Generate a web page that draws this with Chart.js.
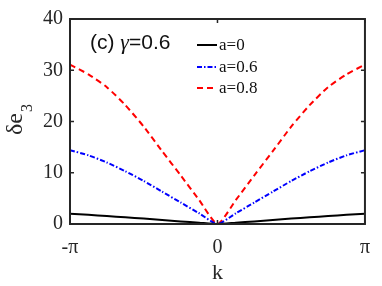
<!DOCTYPE html>
<html>
<head>
<meta charset="utf-8">
<script src="https://cdn.jsdelivr.net/npm/chart.js@4"></script>
<style>
  html, body { margin: 0; padding: 0; background: #fff; }
  #wrap { width: 382px; height: 286px; }
</style>
</head>
<body>
<div id="wrap"><canvas id="chart" width="382" height="286"></canvas></div>
<script>
// k grid, in units of pi (multiplied later)
const kSteps = [-1, -0.875, -0.75, -0.625, -0.5, -0.375, -0.25, -0.125, 0, 0.125, 0.25, 0.375, 0.5, 0.625, 0.75, 0.875, 1]

// delta e3 values
const a0 = [2.0, 1.8, 1.55, 1.3, 1.05, 0.78, 0.5, 0.25, 0, 0.25, 0.5, 0.78, 1.05, 1.3, 1.55, 1.8, 2.0]
const a06 = [14.4, 13.4, 12.0, 10.3, 8.4, 6.3, 4.2, 2.1, 0, 2.1, 4.2, 6.3, 8.4, 10.3, 12.0, 13.4, 14.4]
const a08 = [31.1, 29.2, 26.7, 23.2, 19.0, 14.2, 9.5, 4.7, 0, 4.7, 9.5, 14.2, 19.0, 23.2, 26.7, 29.2, 31.1]

const seriesLabels = ["a=0", "a=0.6", "a=0.8"]
const xTickValues = [-Math.PI, 0, Math.PI]
const xTickLabels = ["-\u03c0", "0", "\u03c0"]
const yTicks = [0, 10, 20, 30, 40]

const axisColor = "#262626"

function toPoints(vals) {
  return vals.map(function (v, i) {
    return { x: kSteps[i] * Math.PI, y: v }
  })
}

// frame box, inward ticks on all sides, legend, panel label, y title
const decorPlugin = {
  id: "decor",
  afterDraw(chart) {
    const ctx = chart.ctx
    const area = chart.chartArea
    const xs = chart.scales.x
    const ys = chart.scales.y
    ctx.save()
    ctx.strokeStyle = axisColor
    ctx.lineWidth = 2
    ctx.strokeRect(area.left, area.top, area.right - area.left, area.bottom - area.top)

    ctx.lineWidth = 1.5
    ctx.beginPath()
    yTicks.forEach(function (v) {
      const py = ys.getPixelForValue(v)
      ctx.moveTo(area.left, py)
      ctx.lineTo(area.left + 4, py)
      ctx.moveTo(area.right, py)
      ctx.lineTo(area.right - 4, py)
    })
    xTickValues.forEach(function (v) {
      const px = xs.getPixelForValue(v)
      ctx.moveTo(px, area.bottom)
      ctx.lineTo(px, area.bottom - 4)
      ctx.moveTo(px, area.top)
      ctx.lineTo(px, area.top + 4)
    })
    ctx.stroke()

    // legend
    const rows = [45, 67, 88]
    chart.data.datasets.forEach(function (ds, i) {
      ctx.beginPath()
      ctx.strokeStyle = ds.borderColor
      ctx.lineWidth = ds.borderWidth
      ctx.setLineDash(ds.borderDash || [])
      ctx.moveTo(197, rows[i])
      ctx.lineTo(217, rows[i])
      ctx.stroke()
      ctx.setLineDash([])
      ctx.fillStyle = "#111"
      ctx.font = "17px 'Liberation Serif'"
      ctx.textBaseline = "middle"
      ctx.textAlign = "left"
      ctx.fillText(ds.label, 219, rows[i] + 1)
    })

    // panel label
    ctx.fillStyle = "#111"
    ctx.textBaseline = "alphabetic"
    ctx.font = "21px 'Liberation Sans'"
    let x = 90
    ctx.fillText("(c) ", x, 49)
    x += ctx.measureText("(c) ").width
    ctx.font = "italic 22px 'Liberation Serif'"
    ctx.fillText("\u03b3", x, 49)
    x += ctx.measureText("\u03b3").width
    ctx.font = "21px 'Liberation Sans'"
    ctx.fillText("=0.6", x, 49)

    // y axis title: delta e with subscript 3
    ctx.translate(22, 135)
    ctx.rotate(-Math.PI / 2)
    ctx.font = "24px 'Liberation Serif'"
    ctx.fillStyle = axisColor
    ctx.textAlign = "left"
    const w1 = ctx.measureText("\u03b4e").width
    ctx.fillText("\u03b4e", 0, 0)
    ctx.font = "16px 'Liberation Serif'"
    ctx.fillText("3", w1 + 1, 10)
    ctx.restore()
  },
}

const ctx = document.getElementById("chart").getContext("2d")
const chart = new Chart(ctx, {
  type: "line",
  data: {
    datasets: [
      {
        label: seriesLabels[0],
        data: toPoints(a0),
        borderColor: "#000000",
        borderWidth: 2,
        pointRadius: 0,
        tension: 0.2,
      },
      {
        label: seriesLabels[1],
        data: toPoints(a06),
        borderColor: "#0000ff",
        borderWidth: 2,
        borderDash: [5, 2, 1.5, 2],
        pointRadius: 0,
        tension: 0.2,
      },
      {
        label: seriesLabels[2],
        data: toPoints(a08),
        borderColor: "#ff0000",
        borderWidth: 2,
        borderDash: [6, 4],
        pointRadius: 0,
        tension: 0.2,
      },
    ],
  },
  options: {
    responsive: false,
    animation: false,
    layout: { padding: { left: 0, right: 7, top: 13, bottom: 0 } },
    plugins: {
      legend: { display: false },
      tooltip: { enabled: false },
    },
    scales: {
      x: {
        type: "linear",
        min: -Math.PI,
        max: Math.PI,
        afterBuildTicks: function (scale) {
          scale.ticks = xTickValues.map(function (v) { return { value: v } })
        },
        afterFit: function (scale) { scale.height = 62 },
        grid: { display: false, drawTicks: false },
        border: { display: false },
        ticks: {
          padding: 12,
          color: axisColor,
          font: { family: "Liberation Serif", size: 20 },
          maxRotation: 0,
          callback: function (v) {
            const i = xTickValues.indexOf(v)
            return i >= 0 ? xTickLabels[i] : ""
          },
        },
        title: {
          display: true,
          text: "k",
          color: axisColor,
          padding: { top: 0, bottom: 0 },
          font: { family: "Liberation Serif", size: 22 },
        },
      },
      y: {
        min: 0,
        max: 40,
        afterFit: function (scale) { scale.width = 70 },
        grid: { display: false, drawTicks: false },
        border: { display: false },
        ticks: {
          stepSize: 10,
          padding: 7,
          color: axisColor,
          font: { family: "Liberation Serif", size: 20 },
        },
      },
    },
  },
  plugins: [decorPlugin],
})
</script>
</body>
</html>
